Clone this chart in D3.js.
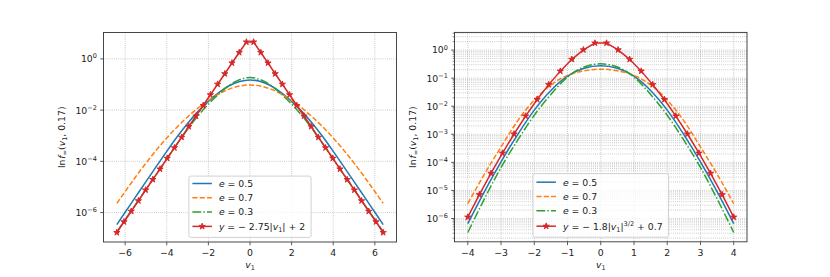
<!DOCTYPE html>
<html>
<head>
<meta charset="utf-8">
<script src="https://cdn.jsdelivr.net/npm/d3@7"></script>
<style>
  body { margin: 0; background: #fff; }
  svg text { font-family: "DejaVu Sans", sans-serif; fill: #222; white-space: pre; }
</style>
</head>
<body>
<div id="wrapper"></div>
<script>
// data: v values and log10 of the plotted values

// left panel
const vLeft = [-6.4,-6,-5.5,-5,-4.5,-4,-3.5,-3,-2.5,-2,-1.5,-1,-0.5,0,0.5,1,1.5,2,2.5,3,3.5,4,4.5,5,5.5,6,6.4]
const leftE05 = [-6.47,-5.99,-5.39,-4.79,-4.20,-3.61,-3.04,-2.52,-2.06,-1.66,-1.32,-1.05,-0.88,-0.82,-0.88,-1.05,-1.32,-1.66,-2.06,-2.52,-3.04,-3.61,-4.20,-4.79,-5.39,-5.99,-6.47]
const leftE07 = [-5.64,-5.18,-4.61,-4.07,-3.56,-3.09,-2.66,-2.27,-1.92,-1.62,-1.37,-1.18,-1.06,-1.02,-1.06,-1.18,-1.37,-1.62,-1.92,-2.27,-2.66,-3.09,-3.56,-4.07,-4.61,-5.18,-5.64]
const leftE03 = [-6.76,-6.28,-5.69,-5.09,-4.50,-3.91,-3.32,-2.75,-2.22,-1.77,-1.37,-1.03,-0.81,-0.73,-0.81,-1.03,-1.37,-1.77,-2.22,-2.75,-3.32,-3.91,-4.50,-5.09,-5.69,-6.28,-6.76]
const vLeftFit = [-6.400,-6.054,-5.708,-5.362,-5.016,-4.670,-4.324,-3.978,-3.632,-3.286,-2.941,-2.595,-2.249,-1.903,-1.557,-1.211,-0.865,-0.519,-0.173,0.173,0.519,0.865,1.211,1.557,1.903,2.249,2.595,2.941,3.286,3.632,3.978,4.324,4.670,5.016,5.362,5.708,6.054,6.400]
const leftFit = [-6.78,-6.36,-5.95,-5.54,-5.12,-4.71,-4.30,-3.88,-3.47,-3.06,-2.64,-2.23,-1.82,-1.40,-0.99,-0.58,-0.16,0.25,0.66,0.66,0.25,-0.16,-0.58,-0.99,-1.40,-1.82,-2.23,-2.64,-3.06,-3.47,-3.88,-4.30,-4.71,-5.12,-5.54,-5.95,-6.36,-6.78]

// right panel
const vRight = [-4,-3.5,-3,-2.5,-2,-1.5,-1,-0.5,0,0.5,1,1.5,2,2.5,3,3.5,4]
const rightE05 = [-6.18,-5.04,-3.98,-3.01,-2.14,-1.44,-0.93,-0.65,-0.56,-0.65,-0.93,-1.44,-2.14,-3.01,-3.98,-5.04,-6.18]
const rightE07 = [-5.47,-4.42,-3.45,-2.52,-1.78,-1.24,-0.90,-0.74,-0.68,-0.74,-0.90,-1.24,-1.78,-2.52,-3.45,-4.42,-5.47]
const rightE03 = [-6.50,-5.30,-4.18,-3.21,-2.32,-1.58,-0.96,-0.60,-0.49,-0.60,-0.96,-1.58,-2.32,-3.21,-4.18,-5.30,-6.50]
const vRightFit = [-4.000,-3.652,-3.304,-2.957,-2.609,-2.261,-1.913,-1.565,-1.217,-0.870,-0.522,-0.174,0.174,0.522,0.870,1.217,1.565,1.913,2.261,2.609,2.957,3.304,3.652,4.000]
const rightFit = [-5.95,-5.15,-4.39,-3.67,-2.99,-2.35,-1.76,-1.23,-0.75,-0.33,0.01,0.25,0.25,0.01,-0.33,-0.75,-1.23,-1.76,-2.35,-2.99,-3.67,-4.39,-5.15,-5.95]

// ticks
const leftXTicks = [-6,-4,-2,0,2,4,6]
const leftYTicks = [0,-2,-4,-6]
const rightXTicks = [-4,-3,-2,-1,0,1,2,3,4]
const rightYTicks = [0,-1,-2,-3,-4,-5,-6]

// legend labels (text pieces: "i" italic, "sub", "sup")
const labelE05 = [["e","i"],[" = 0.5",""]]
const labelE07 = [["e","i"],[" = 0.7",""]]
const labelE03 = [["e","i"],[" = 0.3",""]]
const labelLeftFit = [["y","i"],[" = − 2.75|",""],["v","i"],["1","sub"],["| + 2",""]]
const labelRightFit = [["y","i"],[" = − 1.8|",""],["v","i"],["1","sub"],["|",""],["3/2","sup"],[" + 0.7",""]]
const yLabel = [["ln",""],["f","i"],["=","sub"],["(",""],["v","i"],["1","sub"],[", 0.17)",""]]
const xLabel = [["v","i"],["1","sub"]]

const fontSize = 9.3
const colors = { e05: "#1f77b4", e07: "#ff7f0e", e03: "#2ca02c", fit: "#d62728" }
const lineWidth = 1.5

const svg = d3.select("#wrapper")
  .append("svg")
    .attr("width", 830)
    .attr("height", 277)

drawPanel({
  left: 103.5, right: 396.5, top: 32.5, bottom: 242,
  xDomain: [-7.04, 7.04], yExp: [-7.15, 1.03],
  xTicks: leftXTicks, yTicks: leftYTicks, minor: false,
  v: vLeft, e05: leftE05, e07: leftE07, e03: leftE03,
  vFit: vLeftFit, fit: leftFit, fitLabel: labelLeftFit,
  yLabelX: 65
})

drawPanel({
  left: 454.5, right: 747, top: 32.4, bottom: 241.8,
  xDomain: [-4.4, 4.4], yExp: [-6.83, 0.63],
  xTicks: rightXTicks, yTicks: rightYTicks, minor: true,
  v: vRight, e05: rightE05, e07: rightE07, e03: rightE03,
  vFit: vRightFit, fit: rightFit, fitLabel: labelRightFit,
  yLabelX: 416
})

function minusSign(n) {
  return n < 0 ? "−" + Math.abs(n) : String(n)
}

// writes pieces of math-like text into a <text> element
function richText(sel, parts, size) {
  let offset = 0
  parts.forEach(([t, s], i) => {
    const small = s === "sub" || s === "sup"
    const target = s === "sub" ? 0.24 * size : s === "sup" ? -0.42 * size : 0
    const span = sel.append("tspan")
      .attr("dy", target - offset)
      .attr("font-size", small ? size * 0.7 : size)
      .attr("font-style", s === "i" ? "italic" : null)
      .text(t)
    if (parts[0][0] === "ln" && i === 1) span.attr("dx", 0.8)
    offset = target
  })
  return sel
}

function starPath(r) {
  const inner = r * 0.381966
  const pts = []
  for (let k = 0; k < 10; k++) {
    const a = -Math.PI / 2 + k * Math.PI / 5
    const rr = k % 2 === 0 ? r : inner
    pts.push([rr * Math.cos(a), rr * Math.sin(a)])
  }
  return "M" + pts.map(p => p[0].toFixed(2) + "," + p[1].toFixed(2)).join("L") + "Z"
}

function drawPanel(p) {
  const xScale = d3.scaleLinear().domain(p.xDomain).range([p.left, p.right])
  const yScale = d3.scaleLog()
    .domain([10 ** p.yExp[0], 10 ** p.yExp[1]])
    .range([p.bottom, p.top])

  const bounds = svg.append("g")

  // grid
  const grid = bounds.append("g")
    .attr("stroke", "#b0b0b0")
    .attr("stroke-width", 0.8)
    .attr("stroke-dasharray", "0.8,1.3")

  let minorValues = []
  if (p.minor) {
    for (let d = Math.floor(p.yExp[0]); d <= Math.ceil(p.yExp[1]); d++) {
      for (let k = 2; k <= 9; k++) {
        const val = k * 10 ** d
        if (Math.log10(val) > p.yExp[0] && Math.log10(val) < p.yExp[1]) minorValues.push(val)
      }
    }
    minorValues.forEach(val => {
      grid.append("line")
        .attr("x1", p.left).attr("x2", p.right)
        .attr("y1", yScale(val)).attr("y2", yScale(val))
    })
  }
  p.xTicks.forEach(t => {
    grid.append("line")
      .attr("x1", xScale(t)).attr("x2", xScale(t))
      .attr("y1", p.top).attr("y2", p.bottom)
  })
  p.yTicks.forEach(e => {
    grid.append("line")
      .attr("x1", p.left).attr("x2", p.right)
      .attr("y1", yScale(10 ** e)).attr("y2", yScale(10 ** e))
  })

  // curves
  const curve = d3.line()
    .x(d => xScale(d[0]))
    .y(d => yScale(10 ** d[1]))
    .curve(d3.curveMonotoneX)

  const series = [
    { vals: p.e05, color: colors.e05, dash: null },
    { vals: p.e07, color: colors.e07, dash: "5.1,2.2" },
    { vals: p.e03, color: colors.e03, dash: "8.8,2.2,1.4,2.2" },
  ]
  series.forEach(s => {
    bounds.append("path")
      .datum(p.v.map((v, i) => [v, s.vals[i]]))
      .attr("d", curve)
      .attr("fill", "none")
      .attr("stroke", s.color)
      .attr("stroke-width", lineWidth)
      .attr("stroke-dasharray", s.dash)
  })

  const fitData = p.vFit.map((v, i) => [v, p.fit[i]])
  bounds.append("path")
    .datum(fitData)
    .attr("d", d3.line().x(d => xScale(d[0])).y(d => yScale(10 ** d[1])))
    .attr("fill", "none")
    .attr("stroke", colors.fit)
    .attr("stroke-width", lineWidth)

  bounds.append("g")
    .selectAll("path")
    .data(fitData)
    .enter()
      .append("path")
      .attr("d", starPath(3.3))
      .attr("transform", d => `translate(${xScale(d[0])},${yScale(10 ** d[1])})`)
      .attr("fill", colors.fit)
      .attr("stroke", colors.fit)
      .attr("stroke-width", 0.9)

  // spines
  bounds.append("rect")
    .attr("x", p.left).attr("y", p.top)
    .attr("width", p.right - p.left).attr("height", p.bottom - p.top)
    .attr("fill", "none")
    .attr("stroke", "#333")
    .attr("stroke-width", 0.9)

  // ticks
  const ticks = bounds.append("g").attr("stroke", "#333").attr("stroke-width", 0.8)
  p.xTicks.forEach(t => {
    ticks.append("line")
      .attr("x1", xScale(t)).attr("x2", xScale(t))
      .attr("y1", p.bottom).attr("y2", p.bottom + 3.3)
    bounds.append("text")
      .attr("x", xScale(t))
      .attr("y", p.bottom + 14)
      .attr("text-anchor", "middle")
      .attr("font-size", fontSize)
      .text(minusSign(t))
  })
  p.yTicks.forEach(e => {
    const yy = yScale(10 ** e)
    ticks.append("line")
      .attr("x1", p.left - 3.3).attr("x2", p.left)
      .attr("y1", yy).attr("y2", yy)
    const label = bounds.append("text")
      .attr("x", p.left - 6.6)
      .attr("y", yy + 3.4)
      .attr("text-anchor", "end")
      .attr("font-size", fontSize)
    richText(label, [["10", ""], [minusSign(e), "sup"]], fontSize)
  })
  minorValues.forEach(val => {
    ticks.append("line")
      .attr("x1", p.left - 1.8).attr("x2", p.left)
      .attr("y1", yScale(val)).attr("y2", yScale(val))
      .attr("stroke-width", 0.6)
  })

  // axis labels
  const cx = (p.left + p.right) / 2
  const xl = bounds.append("text")
    .attr("x", cx).attr("y", 268)
    .attr("text-anchor", "middle")
    .attr("font-size", fontSize)
  richText(xl, xLabel, fontSize)

  const yl = bounds.append("text")
    .attr("transform", `translate(${p.yLabelX},${(p.top + p.bottom) / 2}) rotate(-90)`)
    .attr("text-anchor", "middle")
    .attr("font-size", fontSize)
  richText(yl, yLabel, fontSize)

  // legend
  const entries = [
    { label: labelE05, color: colors.e05, dash: null },
    { label: labelE07, color: colors.e07, dash: "5.1,2.2" },
    { label: labelE03, color: colors.e03, dash: "8.8,2.2,1.4,2.2" },
    { label: p.fitLabel, color: colors.fit, dash: null, star: true },
  ]
  const legend = bounds.append("g")
  const box = legend.append("rect")
  const boxBottom = p.bottom - 4.6
  const rowCenters = []
  let c = boxBottom - 11
  for (let i = entries.length - 1; i >= 0; i--) {
    rowCenters[i] = c
    const hasSup = entries[i].label.some(q => q[1] === "sup")
    c -= hasSup ? 15.4 : 14.3
  }
  const lastSup = entries[entries.length - 1].label.some(q => q[1] === "sup")
  const boxTop = rowCenters[0] - (lastSup ? 8.6 : 7.4)

  const texts = entries.map((en, i) => {
    const t = legend.append("text")
      .attr("y", rowCenters[i] + 3.3)
      .attr("font-size", fontSize)
    return richText(t, en.label, fontSize)
  })
  const maxW = d3.max(texts, t => t.node().getComputedTextLength())
  const boxW = 30 + maxW + 6
  const x0 = cx - boxW / 2

  box.attr("x", x0).attr("y", boxTop)
    .attr("width", boxW).attr("height", boxBottom - boxTop)
    .attr("rx", 2)
    .attr("fill", "#fff").attr("fill-opacity", 0.8)
    .attr("stroke", "#cccccc").attr("stroke-width", 0.9)

  entries.forEach((en, i) => {
    legend.append("line")
      .attr("x1", x0 + 3.5).attr("x2", x0 + 23)
      .attr("y1", rowCenters[i]).attr("y2", rowCenters[i])
      .attr("stroke", en.color)
      .attr("stroke-width", lineWidth)
      .attr("stroke-dasharray", en.dash)
    if (en.star) {
      legend.append("path")
        .attr("d", starPath(3.3))
        .attr("transform", `translate(${x0 + 13.25},${rowCenters[i]})`)
        .attr("fill", en.color)
        .attr("stroke", en.color)
        .attr("stroke-width", 0.9)
    }
    texts[i].attr("x", x0 + 30)
  })
}
</script>
</body>
</html>
